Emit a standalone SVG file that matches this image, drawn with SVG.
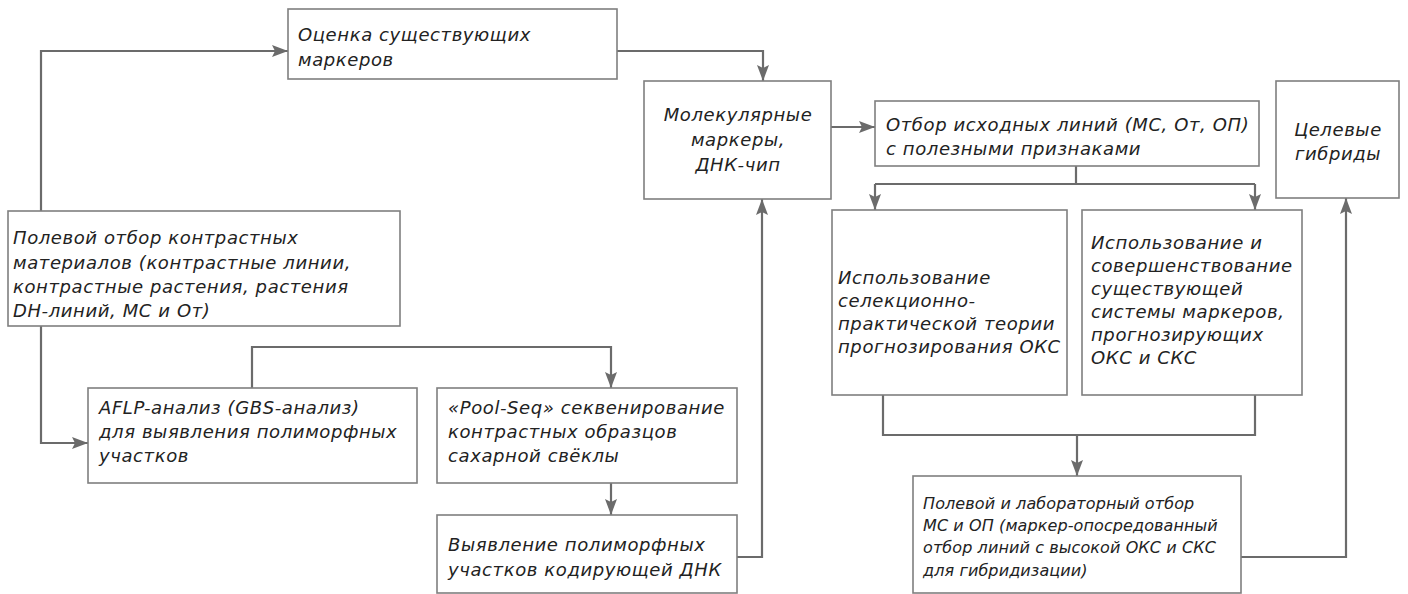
<svg xmlns="http://www.w3.org/2000/svg" width="1408" height="594" viewBox="0 0 1408 594">
<style>
.box{fill:#fff;stroke:#7f7f7f;stroke-width:1.6}
.t{font-family:"DejaVu Sans","Noto Sans",sans-serif;font-style:italic;font-size:18px;letter-spacing:0.6px;fill:#222}
.s{font-size:16px;letter-spacing:0.1px}
.c{text-anchor:middle}
.ln{fill:none;stroke:#6b6b6b;stroke-width:2.2}
</style>
<defs>
<marker id="ah" markerUnits="userSpaceOnUse" markerWidth="17" markerHeight="13" refX="16" refY="6.5" orient="auto">
<path d="M0,0.5 L16,6.5 L0,12.5 L3,6.5 z" fill="#6b6b6b"/>
</marker>
</defs>
<rect width="1408" height="594" fill="#fff"/>
<g id="connectors">
<path class="ln" d="M41,211 V51 H288" marker-end="url(#ah)"/>
<path class="ln" d="M617,51 H763 V81" marker-end="url(#ah)"/>
<path class="ln" d="M831,127 H875" marker-end="url(#ah)"/>
<path class="ln" d="M1076,166 V184"/>
<path class="ln" d="M875,184 H1255"/>
<path class="ln" d="M875,184 V210" marker-end="url(#ah)"/>
<path class="ln" d="M1255,184 V210" marker-end="url(#ah)"/>
<path class="ln" d="M41,326 V443 H88" marker-end="url(#ah)"/>
<path class="ln" d="M252,388 V347 H611 V388" marker-end="url(#ah)"/>
<path class="ln" d="M611,483 V515" marker-end="url(#ah)"/>
<path class="ln" d="M737,557 H762 V199" marker-end="url(#ah)"/>
<path class="ln" d="M883,395 V435 H1255 V395"/>
<path class="ln" d="M1077,435 V476" marker-end="url(#ah)"/>
<path class="ln" d="M1241,557 H1346 V198" marker-end="url(#ah)"/>
</g>
<g id="nodeA">
<rect class="box" x="288" y="9" width="329" height="70"/>
<text class="t" x="298" y="41">Оценка существующих</text>
<text class="t" x="298" y="66">маркеров</text>
</g>
<g id="nodeB">
<rect class="box" x="8" y="211" width="392" height="115"/>
<text class="t" x="13" y="244">Полевой отбор контрастных</text>
<text class="t" x="13" y="269">материалов (контрастные линии,</text>
<text class="t" x="13" y="293">контрастные растения, растения</text>
<text class="t" x="13" y="317">DH-линий, МС и От)</text>
</g>
<g id="nodeC">
<rect class="box" x="88" y="388" width="329" height="95"/>
<text class="t" x="99" y="414">AFLP-анализ (GBS-анализ)</text>
<text class="t" x="99" y="438">для выявления полиморфных</text>
<text class="t" x="99" y="462">участков</text>
</g>
<g id="nodeD">
<rect class="box" x="437" y="388" width="300" height="95"/>
<text class="t" x="448" y="414">«Pool-Seq» секвенирование</text>
<text class="t" x="448" y="438">контрастных образцов</text>
<text class="t" x="448" y="462">сахарной свёклы</text>
</g>
<g id="nodeE">
<rect class="box" x="437" y="515" width="300" height="78"/>
<text class="t" x="448" y="551">Выявление полиморфных</text>
<text class="t" x="448" y="576">участков кодирующей ДНК</text>
</g>
<g id="nodeF">
<rect class="box" x="644" y="81" width="187" height="118"/>
<text class="t c" x="738" y="121">Молекулярные</text>
<text class="t c" x="738" y="146">маркеры,</text>
<text class="t c" x="738" y="171">ДНК-чип</text>
</g>
<g id="nodeG">
<rect class="box" x="875" y="101" width="384" height="65"/>
<text class="t" x="886" y="131">Отбор исходных линий (МС, От, ОП)</text>
<text class="t" x="886" y="155">с полезными признаками</text>
</g>
<g id="nodeH">
<rect class="box" x="1276" y="81" width="123" height="117"/>
<text class="t c" x="1338" y="136">Целевые</text>
<text class="t c" x="1338" y="160">гибриды</text>
</g>
<g id="nodeI">
<rect class="box" x="832" y="210" width="235" height="185"/>
<text class="t" x="838" y="284">Использование</text>
<text class="t" x="838" y="307">селекционно-</text>
<text class="t" x="838" y="330">практической теории</text>
<text class="t" x="838" y="353">прогнозирования ОКС</text>
</g>
<g id="nodeJ">
<rect class="box" x="1082" y="210" width="220" height="185"/>
<text class="t" x="1091" y="249">Использование и</text>
<text class="t" x="1091" y="272">совершенствование</text>
<text class="t" x="1091" y="295">существующей</text>
<text class="t" x="1091" y="318">системы маркеров,</text>
<text class="t" x="1091" y="341">прогнозирующих</text>
<text class="t" x="1091" y="364">ОКС и СКС</text>
</g>
<g id="nodeK">
<rect class="box" x="913" y="476" width="328" height="117"/>
<text class="t s" x="923" y="509">Полевой и лабораторный отбор</text>
<text class="t s" x="923" y="531">МС и ОП (маркер-опосредованный</text>
<text class="t s" x="923" y="553">отбор линий с высокой ОКС и СКС</text>
<text class="t s" x="923" y="576">для гибридизации)</text>
</g>
</svg>
